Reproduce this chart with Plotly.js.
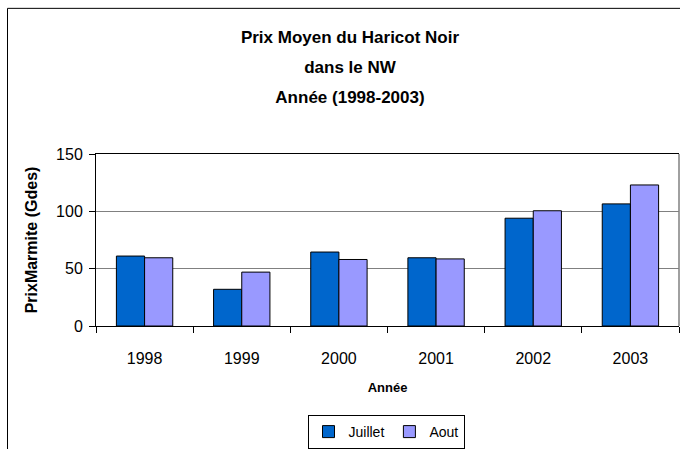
<!DOCTYPE html>
<html>
<head>
<meta charset="utf-8">
<script src="https://cdn.plot.ly/plotly-3.0.1.min.js"></script>
<style>html,body{margin:0;padding:0;background:#fff;}#chart{width:680px;height:449px;}</style>
</head>
<body>
<div id="chart"></div>
<script>
const years = ["1998", "1999", "2000", "2001", "2002", "2003"];
const juillet = [61, 32, 64.5, 59.5, 94, 106.5];
const aout = [59.5, 47, 58, 58.5, 100.5, 123];
const seriesNames = ["Juillet", "Aout"];
const yTicks = [0, 50, 100, 150];

const FONT = '"Liberation Sans", Arial, sans-serif';
const L = 96, R = 1, T = 154, B = 122;
const PW = 680 - L - R, PH = 449 - T - B;
const px = v => (v - L) / PW;
const py = v => (449 - B - v) / PH;

const traces = [
  {type: 'bar', name: seriesNames[0], x: years, y: juillet,
   marker: {color: '#0066CC', line: {color: '#000', width: 1}}},
  {type: 'bar', name: seriesNames[1], x: years, y: aout,
   marker: {color: '#9999FF', line: {color: '#000', width: 1}}}
];

const layout = {
  width: 680, height: 449,
  margin: {l: L, r: R, t: T, b: B},
  paper_bgcolor: '#fff', plot_bgcolor: '#fff',
  font: {family: FONT, color: '#000', size: 16},
  barmode: 'group', bargap: 0.42, bargroupgap: 0,
  title: {
    text: '<span style="font-size:17px">Prix Moyen du Haricot Noir</span><br><span style="font-size:17px">dans le NW</span><br><span style="font-size:17px">Année (1998-2003)</span>',
    font: {family: FONT, size: 23, color: '#000', weight: 'bold'},
    x: 350 / 680, xanchor: 'center', xref: 'container',
    y: 1 - 43 / 449, yanchor: 'top', yref: 'container'
  },
  xaxis: {
    type: 'category',
    showline: true, linecolor: '#000', linewidth: 1, mirror: true,
    ticks: 'outside', tickson: 'boundaries', ticklen: 6, tickcolor: '#000',
    tickfont: {family: FONT, size: 16, color: '#000'},
    ticklabelstandoff: 18,
    showgrid: false, zeroline: false,
    title: {text: '<b>Année</b>', font: {family: FONT, size: 13, color: '#000'}, standoff: 16}
  },
  yaxis: {
    range: [0, 150], tickvals: yTicks,
    showline: true, linecolor: '#000', linewidth: 1,
    ticks: 'outside', ticklen: 6, tickcolor: '#000',
    tickfont: {family: FONT, size: 16, color: '#000'},
    ticklabelstandoff: 3,
    showgrid: true, gridcolor: '#808080', gridwidth: 1,
    zeroline: false,
    title: {text: '<b>PrixMarmite (Gdes)</b>', font: {family: FONT, size: 16, color: '#000'}, standoff: 14}
  },
  legend: {
    orientation: 'h', x: px(386), xanchor: 'center', y: py(415), yanchor: 'top',
    bordercolor: '#000', borderwidth: 1, bgcolor: '#fff',
    font: {family: FONT, size: 14, color: '#000'},
    itemwidth: 30, traceorder: 'normal'
  },
  shapes: [
    {type: 'line', xref: 'paper', yref: 'paper', x0: 1, x1: 1, y0: 0, y1: 1,
     line: {color: '#808080', width: 1.5}},
    {type: 'rect', xref: 'paper', yref: 'paper', x0: px(7.5), x1: 1.6, y0: -2, y1: py(7.5),
     line: {color: '#000', width: 1}, layer: 'below'}
  ],
  showlegend: true
};

Plotly.newPlot('chart', traces, layout, {displayModeBar: false, staticPlot: true});
</script>
</body>
</html>
